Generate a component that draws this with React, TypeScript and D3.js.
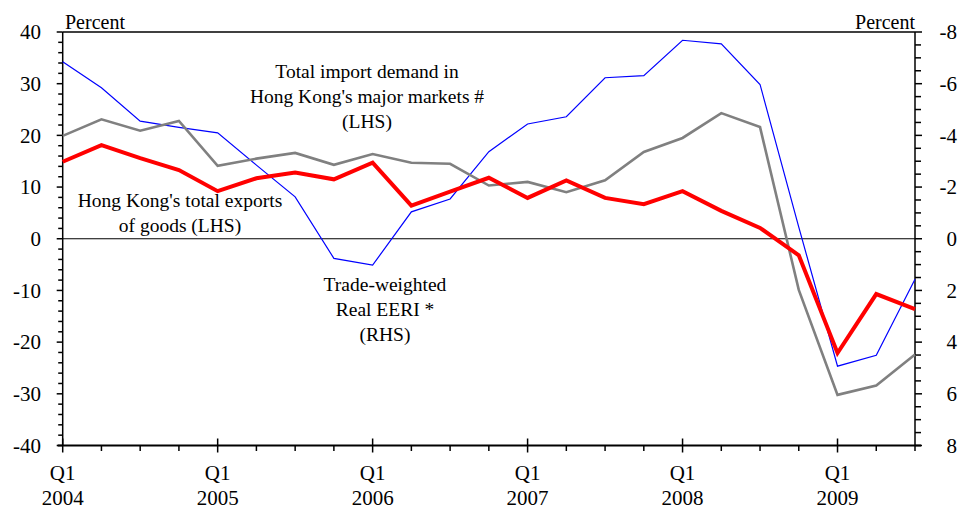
import React from "react";
import * as d3 from "d3";

const quarters = [
  "2004Q1","2004Q2","2004Q3","2004Q4",
  "2005Q1","2005Q2","2005Q3","2005Q4",
  "2006Q1","2006Q2","2006Q3","2006Q4",
  "2007Q1","2007Q2","2007Q3","2007Q4",
  "2008Q1","2008Q2","2008Q3","2008Q4",
  "2009Q1","2009Q2","2009Q3",
];

// Hong Kong's total exports of goods (LHS, %)
const exportsSeries = [
  14.9, 18.1, 15.6, 13.3, 9.2, 11.7, 12.8, 11.5, 14.7, 6.4, 9.1, 11.8,
  7.9, 11.3, 7.9, 6.7, 9.2, 5.4, 2.1, -3.2, -22.1, -10.7, -13.6,
];

// Total import demand in Hong Kong's major markets (LHS, %)
const importDemand = [
  19.9, 23.1, 20.9, 22.8, 14.1, 15.5, 16.6, 14.3, 16.4, 14.7, 14.5, 10.3,
  11.0, 9.0, 11.3, 16.8, 19.5, 24.3, 21.6, -9.9, -30.2, -28.4, -22.4,
];

// Trade-weighted Real EERI (RHS, %, inverted axis)
const eeri = [
  -6.85, -5.84, -4.55, -4.31, -4.1, -2.85, -1.62, 0.76, 1.02, -1.04, -1.54, -3.37,
  -4.44, -4.72, -6.23, -6.31, -7.68, -7.54, -5.97, -0.45, 4.93, 4.51, 1.57,
];

const leftTicks = [40, 30, 20, 10, 0, -10, -20, -30, -40];
const rightTicks = [-8, -6, -4, -2, 0, 2, 4, 6, 8];
const yearLabels = ["2004", "2005", "2006", "2007", "2008", "2009"];

const W = 959;
const H = 510;
const X0 = 62.7;
const X1 = 915;
const YT = 32;
const YB = 445.5;
const FONT = "'Liberation Serif', 'Times New Roman', serif";

export default function App() {
  const x = d3.scaleLinear().domain([0, quarters.length - 1]).range([X0, X1]);
  const yL = d3.scaleLinear().domain([-40, 40]).range([YB, YT]);
  const yR = d3.scaleLinear().domain([8, -8]).range([YB, YT]);

  const lineL = d3
    .line<number>()
    .x((_, i) => x(i))
    .y((v) => yL(v));
  const lineR = d3
    .line<number>()
    .x((_, i) => x(i))
    .y((v) => yR(v));

  const leftMinor = d3.range(-40, 40.001, 2);
  const rightMinor = d3.range(-8, 8.001, 0.5);

  return (
    <svg
      width={W}
      height={H}
      style={{ position: "absolute", left: 0, top: 0, background: "#fff" }}
      fontFamily={FONT}
    >
      <rect x={0} y={0} width={W} height={H} fill="#fff" />
      {/* zero line */}
      <line x1={X0} x2={X1} y1={yL(0)} y2={yL(0)} stroke="#000" strokeWidth={1} />
      {/* frame */}
      <line x1={X0} x2={X1} y1={YT} y2={YT} stroke="#000" strokeWidth={1.5} />
      <line x1={X0} x2={X0} y1={YT} y2={YB} stroke="#000" strokeWidth={1.5} />
      <line x1={X1} x2={X1} y1={YT} y2={YB} stroke="#000" strokeWidth={1.5} />
      <line x1={X0 - 5} x2={X1 + 6} y1={YB} y2={YB} stroke="#000" strokeWidth={2} />

      {/* left ticks */}
      {leftMinor.map((v) => (
        <line
          key={"lm" + v}
          x1={X0 - (v % 10 === 0 ? 6 : 4.5)}
          x2={X0}
          y1={yL(v)}
          y2={yL(v)}
          stroke="#000"
          strokeWidth={1.5}
        />
      ))}
      {leftTicks.map((v) => (
        <text
          key={"lt" + v}
          x={41}
          y={yL(v)}
          dy="0.35em"
          textAnchor="end"
          fontSize={21}
          fill="#000"
        >
          {v}
        </text>
      ))}

      {/* right ticks */}
      {rightMinor.map((v) => (
        <line
          key={"rm" + v}
          x1={X1}
          x2={X1 + (Math.abs(v % 2) < 1e-9 ? 7 : 6)}
          y1={yR(v)}
          y2={yR(v)}
          stroke="#000"
          strokeWidth={1.5}
        />
      ))}
      {rightTicks.map((v) => (
        <text
          key={"rt" + v}
          x={957}
          y={yR(v)}
          dy="0.35em"
          textAnchor="end"
          fontSize={21}
          fill="#000"
        >
          {v < 0 ? "-" + Math.abs(v) : String(v)}
        </text>
      ))}

      {/* x ticks */}
      {quarters.map((q, i) => {
        const major = q.endsWith("Q1");
        return (
          <line
            key={"xt" + q}
            x1={x(i)}
            x2={x(i)}
            y1={major ? YB - 7 : YB}
            y2={YB + (major ? 7 : 5.5)}
            stroke="#000"
            strokeWidth={1.5}
          />
        );
      })}
      {quarters.map((q, i) =>
        q.endsWith("Q1") ? (
          <g key={"xl" + q}>
            <text x={x(i)} y={480} textAnchor="middle" fontSize={21} fill="#000">
              Q1
            </text>
            <text x={x(i)} y={505} textAnchor="middle" fontSize={21} fill="#000">
              {yearLabels[Math.floor(i / 4)]}
            </text>
          </g>
        ) : null
      )}

      {/* Percent labels */}
      <text x={65} y={29} fontSize={20} fill="#000">
        Percent
      </text>
      <text x={915} y={29} fontSize={20} textAnchor="end" fill="#000">
        Percent
      </text>

      {/* series */}
      <path d={lineR(eeri) || ""} fill="none" stroke="#0000ff" strokeWidth={1.2} strokeLinejoin="miter" />
      <path d={lineL(importDemand) || ""} fill="none" stroke="#808080" strokeWidth={2.6} strokeLinejoin="miter" />
      <path d={lineL(exportsSeries) || ""} fill="none" stroke="#ff0000" strokeWidth={4} strokeLinejoin="miter" />

      {/* annotations */}
      <g fontSize={19.5} fill="#000" textAnchor="middle">
        <text x={367} y={78}>Total import demand in</text>
        <text x={367} y={103}>Hong Kong's major markets #</text>
        <text x={367} y={128}>(LHS)</text>

        <text x={180} y={207}>Hong Kong's total exports</text>
        <text x={180} y={232}>of goods (LHS)</text>

        <text x={385} y={291}>Trade-weighted</text>
        <text x={385} y={316}>Real EERI *</text>
        <text x={385} y={341}>(RHS)</text>
      </g>
    </svg>
  );
}
